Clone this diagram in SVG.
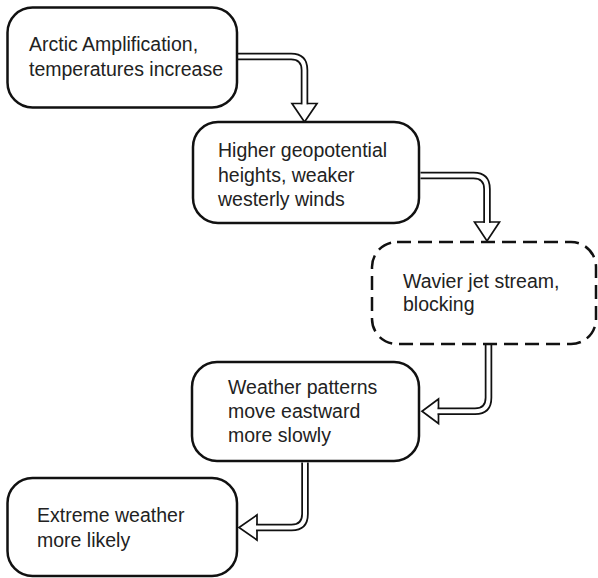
<svg xmlns="http://www.w3.org/2000/svg" width="598" height="578" viewBox="0 0 598 578">
<style>
.box{fill:#fff;stroke:#111;stroke-width:2.5}
.dash{stroke-dasharray:14 7}
.t{font-family:"Liberation Sans",Arial,sans-serif;font-size:19.5px;fill:#222}
.so{fill:none;stroke:#111;stroke-width:7.5}
.si{fill:none;stroke:#fff;stroke-width:4}
.hd{fill:#fff;stroke:#111;stroke-width:1.7;stroke-linejoin:miter}
</style>
<rect width="598" height="578" fill="#fff"/>
<g id="connectors">
<g id="c1">
<polygon class="hd" points="292,103.5 317,103.5 304.5,122"/>
<path class="so" d="M237,56.5 H291 Q304.5,56.5 304.5,70 V104.3"/>
<path class="si" d="M236,56.5 H291 Q304.5,56.5 304.5,70 V106"/>
</g>
<g id="c2">
<polygon class="hd" points="474.5,222 499.5,222 487,241"/>
<path class="so" d="M420.5,175.5 H473.5 Q487,175.5 487,189 V222.8"/>
<path class="si" d="M419.5,175.5 H473.5 Q487,175.5 487,189 V224.5"/>
</g>
<g id="c3">
<polygon class="hd" points="438.5,399 438.5,423.5 422,411.2"/>
<path class="so" d="M488.5,345 V397.7 Q488.5,411.2 475,411.2 H437.7"/>
<path class="si" d="M488.5,344 V397.7 Q488.5,411.2 475,411.2 H436"/>
</g>
<g id="c4">
<polygon class="hd" points="257,515 257,540 239,527.5"/>
<path class="so" d="M305,462.5 V514 Q305,527.5 291.5,527.5 H256.2"/>
<path class="si" d="M305,461.5 V514 Q305,527.5 291.5,527.5 H254.5"/>
</g>
</g>
<g id="n1">
<rect class="box" x="7.5" y="7.5" width="229.5" height="100" rx="25"/>
<text class="t" x="29" y="51">Arctic Amplification,</text>
<text class="t" x="29" y="76">temperatures increase</text>
</g>
<g id="n2">
<rect class="box" x="193" y="122" width="226" height="101" rx="25"/>
<text class="t" x="218" y="157">Higher geopotential</text>
<text class="t" x="218" y="181.5">heights, weaker</text>
<text class="t" x="218" y="206">westerly winds</text>
</g>
<g id="n3">
<rect class="box dash" x="372" y="242" width="224" height="102" rx="25"/>
<text class="t" x="403" y="288">Wavier jet stream,</text>
<text class="t" x="403" y="311">blocking</text>
</g>
<g id="n4">
<rect class="box" x="192" y="362" width="227" height="99" rx="25"/>
<text class="t" x="228" y="394">Weather patterns</text>
<text class="t" x="228" y="418">move eastward</text>
<text class="t" x="228" y="442">more slowly</text>
</g>
<g id="n5">
<rect class="box" x="7.5" y="478" width="229.5" height="98" rx="25"/>
<text class="t" x="37" y="522">Extreme weather</text>
<text class="t" x="37" y="547">more likely</text>
</g>
</svg>
